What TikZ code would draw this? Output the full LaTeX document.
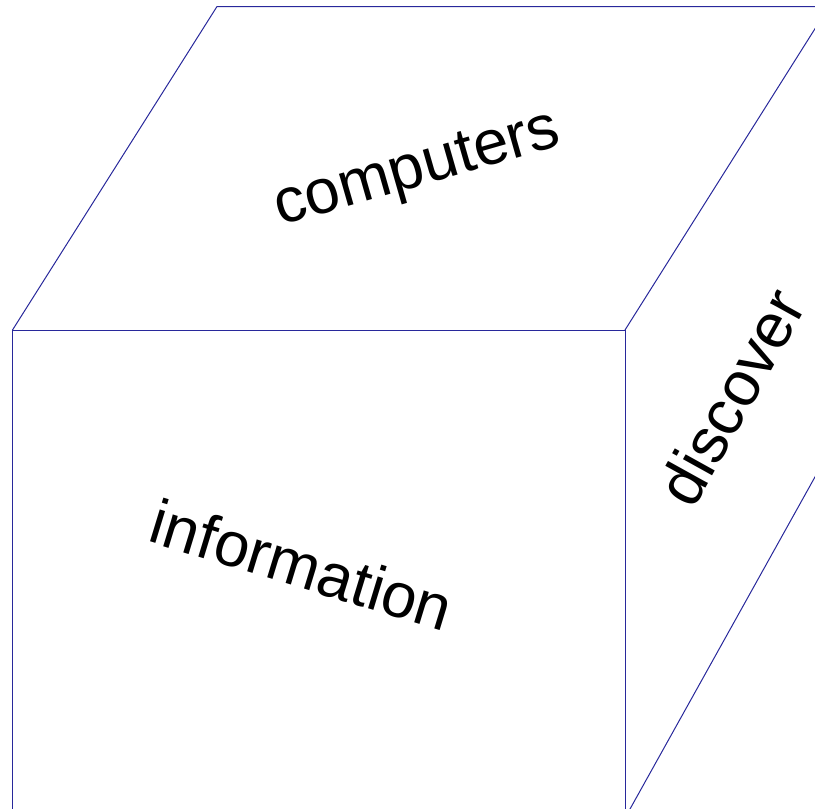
\documentclass[tikz,border=0pt]{standalone}
\usepackage{fontspec}
\setmainfont{Liberation Sans}
\definecolor{edgeblue}{RGB}{40,40,155}
\tikzset{
  edge/.style={draw=edgeblue,line width=1pt,line join=miter},
  facelabel/.style={inner sep=0pt,font=\fontsize{63}{75}\selectfont}
}
\begin{document}
\begin{tikzpicture}[x=1pt,y=1pt]
\useasboundingbox (0,0) rectangle (815,-809);
\clip (0,0) rectangle (815,-809);

\coordinate(ftl) at (12.5,-330);
\coordinate(ftr) at (625,-330);
\coordinate(fbl) at (12.5,-830);
\coordinate(fbr) at (625,-830);
\coordinate(btl) at (217,-6.5);
\coordinate(btr) at (840,-6.5);
\coordinate(rtop) at (829,-6.5);
\coordinate(rfoot) at (625,-818);
\coordinate(rbot) at (835,-441);

\draw[edge] (fbl) -- (ftl) -- (ftr) -- (fbr);
\draw[edge] (ftl) -- (btl) -- (btr);
\draw[edge] (ftr) -- (rtop);
\draw[edge] (rfoot) -- (rbot);

\node[facelabel,rotate=16] (top) at (418,-172) {computers};
\node[facelabel,rotate=-17] (front) at (302,-565) {information};
\node[facelabel,rotate=61] (side) at (731,-397) {discover};

\end{tikzpicture}
\end{document}
